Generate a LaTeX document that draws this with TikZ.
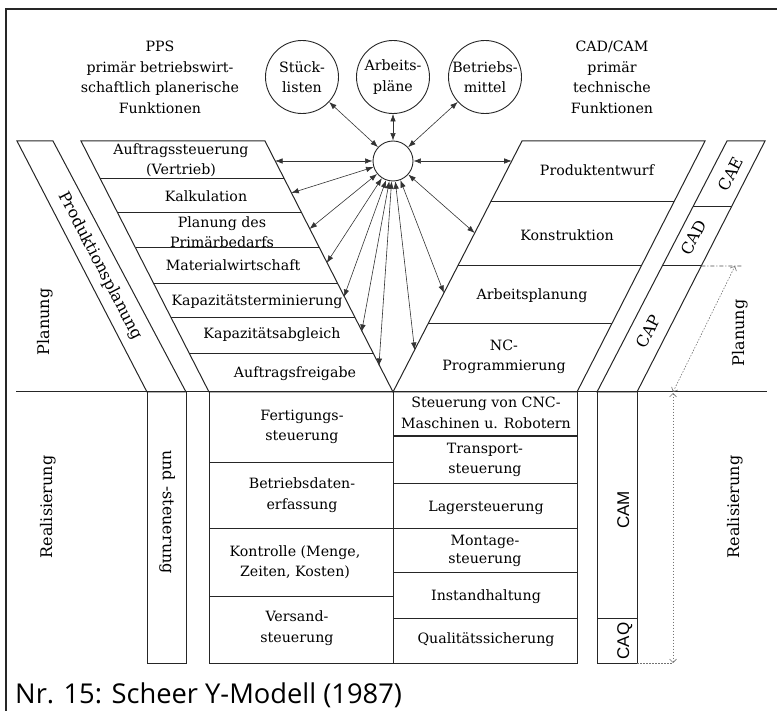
\documentclass[tikz,border=0pt]{standalone}
\usepackage{fontspec}
\setmainfont{DejaVu Serif}
\newfontfamily\capfont{Open Sans}
\newfontfamily\camfont{Liberation Sans}
\usetikzlibrary{arrows.meta,calc}

\begin{document}
\begin{tikzpicture}[x=1pt,y=-1pt,
  frame/.style={line width=1pt, draw=black!85},
  lab/.style={inner sep=0pt, text=black, font=\fontsize{14.2}{20.5}\selectfont,
    text height=10.6pt, text depth=3.2pt},
  lab2/.style={inner sep=0pt, text=black, align=center, font=\fontsize{14.2}{20.5}\selectfont},
  big/.style={inner sep=0pt, text=black, font=\fontsize{16}{19}\selectfont,
    text height=12pt, text depth=3.6pt},
  sans/.style={inner sep=0pt, text=black, font=\camfont\fontsize{17}{19}\selectfont,
    text height=12.2pt, text depth=0pt},
  ball/.style={circle, draw=black!85, line width=0.9pt, minimum size=73pt, inner sep=0pt,
    align=center, text=black, font=\fontsize{14.2}{20.5}\selectfont},
  link/.style={{Latex[length=7.5pt,width=5.5pt]}-{Latex[length=7.5pt,width=5.5pt]},
    line width=0.6pt, draw=black!80},
  span/.style={{Straight Barb[length=3.5pt,width=7pt]}-{Straight Barb[length=3.5pt,width=7pt]},
    dash pattern=on 1.5pt off 1.5pt, line width=0.6pt, draw=black!55},
]
\path[use as bounding box] (0,0) rectangle (777,711);

% outer frame
\draw[line width=2.4pt, black!85] (6,712) -- (6,9) -- (778,9);

% corner points of the slanted areas
\coordinate (lbTL) at (17,141);  \coordinate (lbTR) at (53,141);
\coordinate (lbBL) at (147,392); \coordinate (lbBR) at (186,392);
\coordinate (lfTL) at (81,141);  \coordinate (lfTR) at (265,141);
\coordinate (lfBL) at (209,392); \coordinate (lfBR) at (393,392);
\coordinate (rfTL) at (522,141); \coordinate (rfTR) at (705,141);
\coordinate (rfBL) at (393,392); \coordinate (rfBR) at (577,392);
\coordinate (rbTL) at (727,141); \coordinate (rbTR) at (765,141);
\coordinate (rbBL) at (597,392); \coordinate (rbBR) at (637,392);

% Produktionsplanung band
\draw[frame] (lbTL) -- (lbTR) -- (lbBR) -- (lbBL) -- cycle;
% PPS planning funnel
\draw[frame] (lfTL) -- (lfTR) -- (lfBR) -- (lfBL) -- cycle;
\foreach \yy in {179,213,248,284,318,354}{
  \pgfmathsetmacro{\fr}{(\yy-141)/251}
  \draw[frame] ($(lfTL)!\fr!(lfBL)$) -- ($(lfTR)!\fr!(lfBR)$);
}
% CAD/CAM planning funnel
\draw[frame] (rfTL) -- (rfTR) -- (rfBR) -- (rfBL) -- cycle;
\foreach \yy in {202,266,324}{
  \pgfmathsetmacro{\fr}{(\yy-141)/251}
  \draw[frame] ($(rfTL)!\fr!(rfBL)$) -- ($(rfTR)!\fr!(rfBR)$);
}
% CAE / CAD / CAP band
\draw[frame] (rbTL) -- (rbTR) -- (rbBR) -- (rbBL) -- cycle;
\draw[frame] ($(rbTL)!0.2629!(rbBL)$) -- ($(rbTR)!0.2629!(rbBR)$);
\draw[frame] ($(rbTL)!0.4980!(rbBL)$) -- ($(rbTR)!0.4980!(rbBR)$) coordinate (cut);
\coordinate (ext) at (742,266);
\draw[dash pattern=on 4pt off 2pt on 1pt off 2pt, line width=0.6pt, black!70] (cut) -- (ext);

% planning / realisation divider
\draw[frame] (16,392) -- (767,392);

% realisation columns
\draw[frame] (147,392) rectangle (186,663);
\draw[frame] (209,392) rectangle (393,663);
\foreach \yy in {462,528,596} \draw[frame] (209,\yy) -- (393,\yy);
\draw[frame] (393,392) rectangle (577,663);
\foreach \yy in {436,483,528,572,618} \draw[frame] (393,\yy) -- (578,\yy);
\draw[frame] (597,392) rectangle (637,663);
\draw[frame] (597,618) -- (637,618);

% extent markers on the right
\coordinate (pTop) at (735,266);
\coordinate (pBot) at (673,392);
\coordinate (rTop) at (673,393);
\coordinate (rBot) at (673,663);
\coordinate (qEnd) at (637,663);
\draw[span] (pBot) -- (pTop);
\draw[span] (rTop) -- (rBot);
\draw[dash pattern=on 1.5pt off 1.5pt, line width=0.6pt, black!55] (qEnd) -- (rBot);

% headings
\node[lab2] (pps) at (160,77.5) {PPS\\primär betriebswirt-\\schaftlich planerische\\Funktionen};
\node[lab2] (cadcam) at (612,77.5) {CAD/CAM\\primär\\technische\\Funktionen};

% shared data stores
\node[ball] (stueck) at (302,77) {Stück-\\listen};
\node[ball] (arb) at (393,77) {Arbeits-\\pläne};
\node[ball] (betr) at (485,77) {Betriebs-\\mittel};
\node[circle, draw=black!85, line width=0.9pt, minimum size=40pt, inner sep=0pt] (hub) at (393,161) {};

% PPS functions
\node[lab2] (a1) at (181,160) {Auftragssteuerung\\(Vertrieb)};
\node[lab]  (a2) at (206,198) {Kalkulation};
\node[lab2] (a3) at (222,232) {Planung des\\Primärbedarfs};
\node[lab]  (a4) at (233,267) {Materialwirtschaft};
\node[lab]  (a5) at (257,302) {Kapazitätsterminierung};
\node[lab]  (a6) at (272,335) {Kapazitätsabgleich};
\node[lab]  (a7) at (295,374) {Auftragsfreigabe};

% CAD/CAM functions
\node[lab]  (b1) at (597,172) {Produktentwurf};
\node[lab]  (b2) at (567,237) {Konstruktion};
\node[lab]  (b3) at (532,296) {Arbeitsplanung};
\node[lab2] (b4) at (504,357) {NC-\\Programmierung};

% realisation: PPS side
\node[lab2] (c1) at (302,427) {Fertigungs-\\steuerung};
\node[lab2] (c2) at (302,495) {Betriebsdaten-\\erfassung};
\node[lab2] (c3) at (295,562) {Kontrolle (Menge,\\Zeiten, Kosten)};
\node[lab2] (c4) at (297,628) {Versand-\\steuerung};

% realisation: CAD/CAM side
\node[lab2] (d1) at (486,413) {Steuerung von CNC-\\Maschinen u. Robotern};
\node[lab2] (d2) at (485,460) {Transport-\\steuerung};
\node[lab]  (d3) at (486,508) {Lagersteuerung};
\node[lab2, font=\fontsize{14.2}{18.5}\selectfont] (d4) at (485,551) {Montage-\\steuerung};
\node[lab]  (d5) at (486,597) {Instandhaltung};
\node[lab]  (d6) at (486,640) {Qualitätssicherung};

% band and phase labels
\node[big, rotate=90] (planL) at (45,322) {Planung};
\node[big, rotate=90] (realL) at (48,507) {Realisierung};
\node[big, rotate=-62.6] (prodpl) at (100,266) {Produktionsplanung};
\node[big, rotate=-90] (undst) at (167,512) {und -steuerung};
\node[big, rotate=90] (planR) at (740,333) {Planung};
\node[big, rotate=90] (realR) at (735,507) {Realisierung};
\node[big, rotate=62.6] (cae) at (732,175) {CAE};
\node[big, rotate=62.6] (cad) at (695,238) {CAD};
\node[big, rotate=62.6] (capl) at (650,332) {CAP};
\node[sans, rotate=90] (cam) at (623,510) {CAM};
\node[sans, rotate=90] (caq) at (623,641) {CAQ};

% connector end points on the funnel edges
\coordinate (e1) at (275.1,161);
\coordinate (e2) at (291.3,193);
\coordinate (e3) at (309.5,229);
\coordinate (e4) at (326.7,263);
\coordinate (e5) at (343.9,297);
\coordinate (e6) at (361.6,332);
\coordinate (e7) at (378.9,366);
\coordinate (f1) at (511.7,161);
\coordinate (f2) at (474.7,233);
\coordinate (f3) at (443.9,293);
\coordinate (f4) at (414.6,350);

% data exchange with the shared store
\draw[link] (stueck) -- (hub);
\draw[link] (arb) -- (hub);
\draw[link] (betr) -- (hub);
\foreach \e in {e1,e2,e3,e4,e5,e6,e7,f1,f2,f3,f4}
  \draw[link] (hub) -- (\e);

% caption
\node[anchor=base west, inner sep=0pt, text=black, font=\capfont\fontsize{27.3}{32}\selectfont] (caption) at (15,703) {Nr. 15: Scheer Y-Modell (1987)};
\end{tikzpicture}
\end{document}
